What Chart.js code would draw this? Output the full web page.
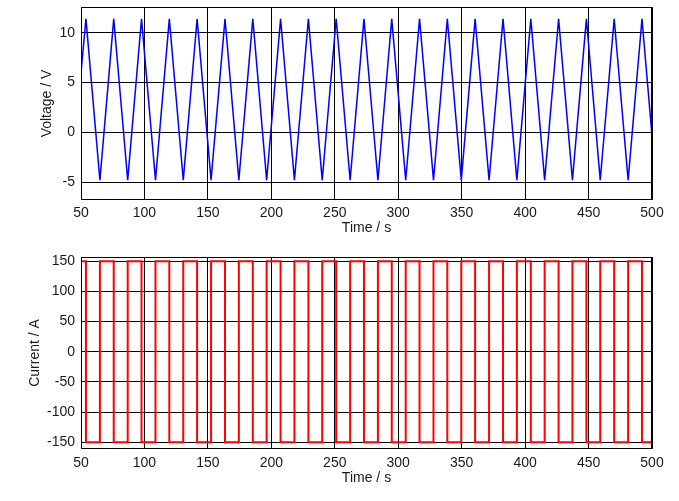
<!DOCTYPE html>
<html lang="en">

<head>
    <meta charset="UTF-8">
    <title>Voltage and current</title>
    <style>
        body { margin: 0; background: #fff; }
        .box { position: absolute; left: 0; width: 679px; }
    </style>
</head>

<body>

    <div class="box" style="top: 0px; height: 250px;">
        <canvas id="voltChart"></canvas>
    </div>
    <div class="box" style="top: 250px; height: 251px;">
        <canvas id="currChart"></canvas>
    </div>

    <script src="https://cdn.jsdelivr.net/npm/chart.js"></script>
    <script>
        // turning points of the triangle wave (s)
        let v_time = [50, 53.9, 64.9, 75.8, 86.8, 97.7, 108.7, 119.6, 130.6, 141.5, 152.5,
            163.5, 174.4, 185.4, 196.3, 207.3, 218.2, 229.2, 240.1, 251.1, 262.1,
            273.0, 284.0, 294.9, 305.9, 316.8, 327.8, 338.7, 349.7, 360.6, 371.6,
            382.6, 393.5, 404.5, 415.4, 426.4, 437.3, 448.3, 459.2, 470.2, 481.2,
            492.1, 500];

        let v_voltage = [6.0, 11.4, -4.8, 11.4, -4.8, 11.4, -4.8, 11.4, -4.8, 11.4, -4.8,
            11.4, -4.8, 11.4, -4.8, 11.4, -4.8, 11.4, -4.8, 11.4, -4.8,
            11.4, -4.8, 11.4, -4.8, 11.4, -4.8, 11.4, -4.8, 11.4, -4.8,
            11.4, -4.8, 11.4, -4.8, 11.4, -4.8, 11.4, -4.8, 11.4, -4.8,
            11.4, -0.3];

        // current level from each turning point until the next one
        let v_current = [150, -150, 150, -150, 150, -150, 150, -150, 150, -150, 150,
            -150, 150, -150, 150, -150, 150, -150, 150, -150, 150,
            -150, 150, -150, 150, -150, 150, -150, 150, -150, 150,
            -150, 150, -150, 150, -150, 150, -150, 150, -150, 150,
            -150, -150];

        let v_xTicks = [50, 100, 150, 200, 250, 300, 350, 400, 450, 500];
        let v_voltTicks = [-5, 0, 5, 10];
        let v_currTicks = [-150, -100, -50, 0, 50, 100, 150];

        const fontTxt = { family: "'Liberation Sans', Arial, sans-serif", size: 14 };
        const txtColor = '#1a1a1a';

        // black frame round the plot area
        const boxPlugin = {
            id: 'box',
            afterDraw(chart) {
                const a = chart.chartArea;
                const c = chart.ctx;
                c.save();
                c.strokeStyle = '#000';
                c.lineWidth = 1;
                c.strokeRect(Math.round(a.left) + 0.5, Math.round(a.top) + 0.5,
                    Math.round(a.right - a.left) - 1, Math.round(a.bottom - a.top) - 1);
                c.restore();
            }
        };

        function makeChart(id, values, ticks, yMin, yMax, yTitle, opt) {
            let pts = [];
            for (let i = 0; i < v_time.length; i++) {
                pts.push({ x: v_time[i], y: values[i] });
            }
            return new Chart(document.getElementById(id), {
                type: 'line',
                data: {
                    datasets: [{
                        data: pts,
                        borderColor: opt.color,
                        borderWidth: opt.width,
                        pointRadius: 0,
                        tension: 0,
                        stepped: opt.stepped
                    }]
                },
                plugins: [boxPlugin],
                options: {
                    responsive: true,
                    maintainAspectRatio: false,
                    animation: false,
                    layout: { padding: { top: 7, right: 27, left: 0, bottom: 0 } },
                    plugins: {
                        legend: { display: false },
                        tooltip: { enabled: false }
                    },
                    scales: {
                        x: {
                            type: 'linear',
                            min: 50,
                            max: 500,
                            afterBuildTicks: (s) => { s.ticks = v_xTicks.map(v => ({ value: v })); },
                            afterFit: (s) => { s.height = opt.xHeight; s.paddingLeft = 0; s.paddingRight = 0; },
                            grid: { color: '#000', lineWidth: 1, drawTicks: false },
                            border: { display: false },
                            ticks: { font: fontTxt, color: txtColor, padding: opt.xPad, maxRotation: 0, autoSkip: false },
                            title: { display: true, text: 'Time / s', font: fontTxt, color: txtColor, padding: { top: opt.xTitlePad, bottom: opt.xTitlePad } }
                        },
                        y: {
                            min: yMin,
                            max: yMax,
                            afterBuildTicks: (s) => { s.ticks = ticks.map(v => ({ value: v })); },
                            afterFit: (s) => { s.width = 81; s.paddingTop = 0; s.paddingBottom = 0; },
                            grid: { color: '#000', lineWidth: 1, drawTicks: false },
                            border: { display: false },
                            ticks: { font: fontTxt, color: txtColor, padding: 6 },
                            title: { display: true, text: yTitle, font: fontTxt, color: txtColor, padding: { top: opt.yTitlePad, bottom: opt.yTitlePad } }
                        }
                    }
                }
            });
        }

        makeChart('voltChart', v_voltage, v_voltTicks, -6.8, 12.6, 'Voltage / V',
            { color: '#0000ff', width: 1.5, stepped: false, xHeight: 50, xPad: 5, xTitlePad: 13.6, yTitlePad: 38.6 });

        makeChart('currChart', v_current, v_currTicks, -161, 157, 'Current / A',
            { color: '#ff0000', width: 2, stepped: 'before', xHeight: 52, xPad: 6, xTitlePad: 14.6, yTitlePad: 26.6 });
    </script>
</body>

</html>
